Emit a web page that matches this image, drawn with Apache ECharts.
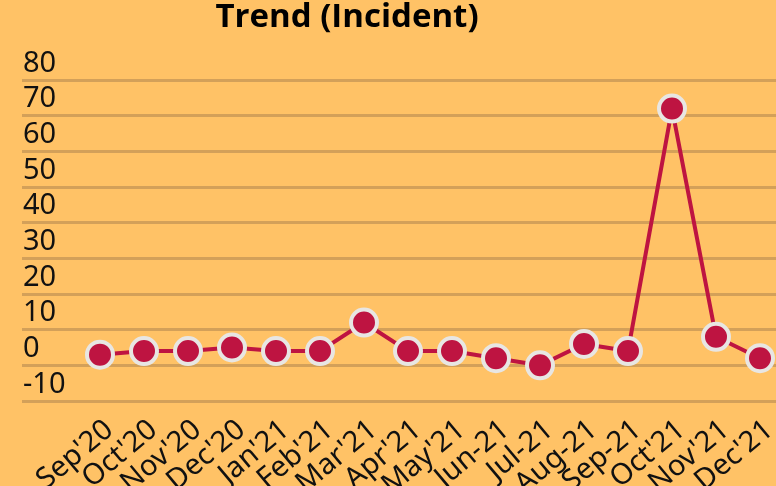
<!DOCTYPE html>
<html>
<head>
<meta charset="utf-8">
<script src="https://cdn.jsdelivr.net/npm/echarts@6/dist/echarts.min.js"></script>
<style>
  html, body { margin: 0; padding: 0; background: #FFC266; }
  #main { width: 776px; height: 486px; }
</style>
</head>
<body>
<div id="main"></div>
<script>
// monthly incident counts
const months = ["Sep'20", "Oct'20", "Nov'20", "Dec'20", "Jan'21", "Feb'21", "Mar'21", "Apr'21",
  "May'21", "Jun-21", "Jul-21", "Aug-21", "Sep-21", "Oct'21", "Nov'21", "Dec'21"];
const incidents = [3, 4, 4, 5, 4, 4, 12, 4, 4, 2, 0, 6, 4, 72, 8, 2];
const yMin = -10;
const yMax = 80;
const yStep = 10;

const chart = echarts.init(document.getElementById('main'));

const option = {
  backgroundColor: '#FFC266',
  animation: false,
  title: {
    text: 'Trend (Incident)',
    left: 342,
    textAlign: 'center',
    top: -4,
    textStyle: {
      fontFamily: 'Open Sans',
      fontWeight: 'bold',
      fontSize: 33,
      color: '#000'
    }
  },
  grid: [
    // gridlines + y labels, wider than the plot area
    { left: 22, right: -20, top: 80, height: 321, outerBoundsMode: 'none' },
    // the line itself
    { left: 78, right: -6, top: 80, height: 321, outerBoundsMode: 'none' }
  ],
  xAxis: [
    { type: 'value', gridIndex: 0, show: false, min: 0, max: 1 },
    {
      type: 'category',
      gridIndex: 1,
      data: months,
      boundaryGap: true,
      axisLine: { show: false },
      axisTick: { show: false },
      axisLabel: {
        rotate: 40,
        margin: 14,
        interval: 0,
        verticalAlign: 'top',
        fontFamily: 'Noto Sans',
        fontSize: 29,
        color: '#111'
      }
    }
  ],
  yAxis: [
    {
      type: 'value',
      gridIndex: 0,
      min: yMin,
      max: yMax,
      interval: yStep,
      axisLine: { show: false },
      axisTick: { show: false },
      axisLabel: {
        inside: true,
        margin: 1,
        verticalAlign: 'bottom',
        padding: [0, 0, 2, 0],
        fontFamily: 'Noto Sans',
        fontSize: 29,
        color: '#111'
      },
      splitLine: { lineStyle: { color: '#D3A059', width: 3 } }
    },
    {
      type: 'value',
      gridIndex: 1,
      min: yMin,
      max: yMax,
      interval: yStep,
      show: false,
      splitLine: { show: false }
    }
  ],
  series: [{
    name: 'Incident',
    type: 'line',
    xAxisIndex: 1,
    yAxisIndex: 1,
    data: incidents,
    symbol: 'circle',
    symbolSize: 26,
    lineStyle: { color: '#BE1441', width: 4 },
    itemStyle: {
      color: '#BE1441',
      borderColor: '#E8E6E3',
      borderWidth: 4
    },
    z: 3
  }]
};

chart.setOption(option);
</script>
</body>
</html>
